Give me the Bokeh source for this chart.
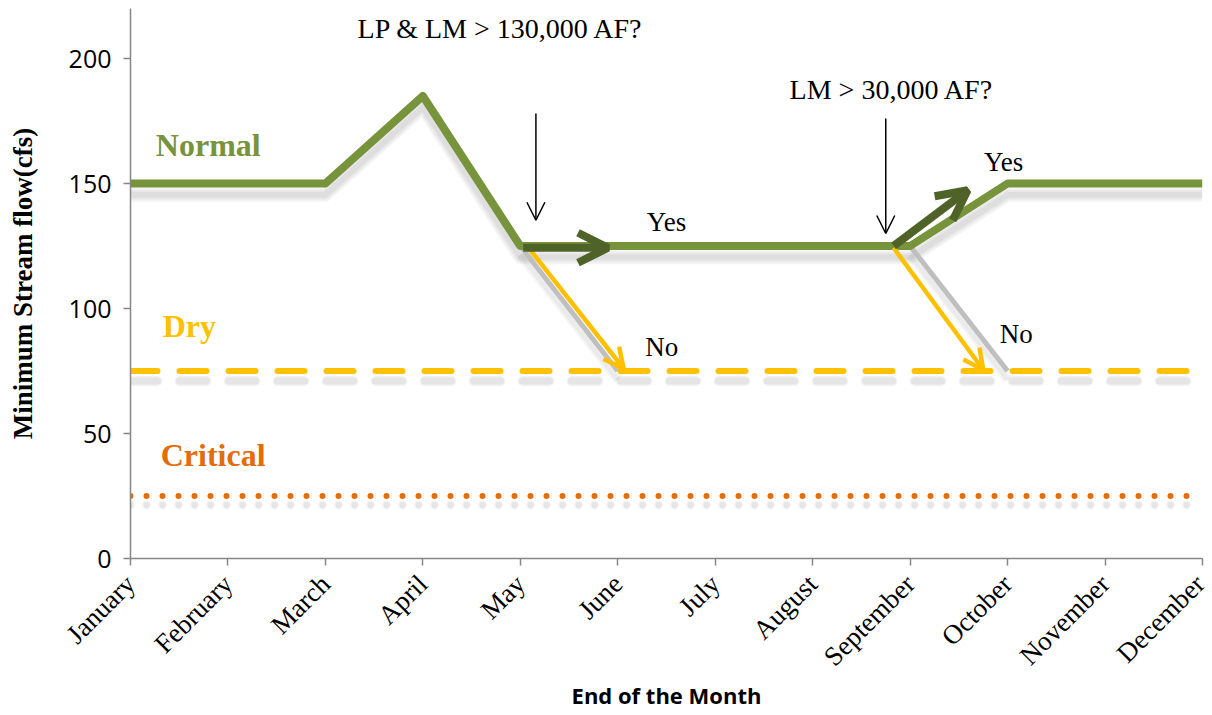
from bokeh.plotting import figure
from bokeh.models import Range1d, FixedTicker, Arrow, OpenHead, Label
from bokeh.embed import file_html
from bokeh.resources import INLINE

# ---------------- data ----------------
months = ["January", "February", "March", "April", "May", "June", "July",
          "August", "September", "October", "November", "December"]
normal_flow = [150, 150, 150, 185, 125, 125, 125, 125, 125, 150, 150, 150]
dry_flow = [75] * 12
critical_flow = [25] * 12
no_path1_months = ["May", "June"]
no_path1_flow = [125, 75]
no_path2_months = ["September", "October"]
no_path2_flow = [125, 75]
y_ticks = [0, 50, 100, 150, 200]

xi = list(range(len(months)))
def idx(ms):
    return [months.index(m) for m in ms]

GREEN = "#77933C"
DKGREEN = "#4F6228"
YELLOW = "#FFC000"
ORANGE = "#E46C0A"
GRAY = "#BFBFBF"
AXIS = "#868686"

p = figure(width=1210, height=713, output_backend="svg", toolbar_location=None,
           x_range=Range1d(0, 11), y_range=Range1d(0, 220),
           min_border_left=130, min_border_right=8, min_border_top=8,
           min_border_bottom=154, outline_line_color=None)
p.grid.visible = False

def shadow(xs, ys, off, widths=(14, 10, 6), alpha=0.045, dash="solid", cap="butt"):
    for w in widths:
        p.line(xs, [v - off for v in ys], line_color="black", line_alpha=alpha,
               line_width=w, line_dash=dash, line_cap=cap, line_join="round")

# shadows
shadow(xi, normal_flow, 4.5)
shadow(xi, dry_flow, 4.0, widths=(10, 7), alpha=0.05, dash="27 22", cap="round")
shadow(xi, critical_flow, 3.6, widths=(9, 6), alpha=0.05, dash="0 16", cap="round")
shadow(idx(no_path1_months), no_path1_flow, 3.5, widths=(9, 5), alpha=0.04)
shadow(idx(no_path2_months), no_path2_flow, 3.5, widths=(9, 5), alpha=0.04)

# gray "No" paths
p.line(idx(no_path1_months), no_path1_flow, line_color=GRAY, line_width=5)
p.line(idx(no_path2_months), no_path2_flow, line_color=GRAY, line_width=5)

# dry and critical
p.line(xi, dry_flow, line_color=YELLOW, line_width=6, line_dash="27 22", line_cap="round")
p.line(xi, critical_flow, line_color=ORANGE, line_width=6, line_dash="0 16", line_cap="round")

# normal
p.line(xi, normal_flow, line_color=GREEN, line_width=8, line_join="round")

# arrows
def arrow(x0, y0, x1, y1, color, lw, size):
    p.add_layout(Arrow(end=OpenHead(size=size, line_color=color, line_width=lw),
                       x_start=x0, y_start=y0, x_end=x1, y_end=y1,
                       line_color=color, line_width=lw))

arrow(4.10, 123.5, 5.06, 76.0, YELLOW, 4.5, 20)
arrow(7.83, 124.3, 8.75, 75.5, YELLOW, 4.5, 20)
arrow(4.03, 124.3, 4.90, 124.3, DKGREEN, 8, 30)
arrow(7.83, 125.0, 8.59, 147.3, DKGREEN, 8, 30)
arrow(4.16, 178.0, 4.16, 135.3, "black", 1.5, 18)
arrow(7.75, 176.0, 7.75, 130.0, "black", 1.5, 18)

# text
SERIF = "Liberation Serif"
def label(x, y, text, size, color="black", bold=False, align="center"):
    p.add_layout(Label(x=x, y=y, text=text, text_font=SERIF, text_font_size=f"{size}px",
                       text_color=color, text_font_style="bold" if bold else "normal",
                       text_align=align, text_baseline="alphabetic"))

label(3.80, 212.2, "LP & LM > 130,000 AF?", 28)
label(7.81, 187.6, "LM > 30,000 AF?", 28)
label(5.50, 134.6, "Yes", 27)
label(8.96, 158.5, "Yes", 27)
label(5.45, 84.6, "No", 27)
label(9.09, 89.8, "No", 27)
label(0.26, 165.3, "Normal", 32, GREEN, True, "left")
label(0.33, 93.1, "Dry", 32, YELLOW, True, "left")
label(0.31, 41.5, "Critical", 32, ORANGE, True, "left")

# axes
p.xaxis.ticker = FixedTicker(ticks=xi)
p.xaxis.major_label_overrides = {i: m for i, m in enumerate(months)}
p.xaxis.major_label_orientation = 0.785398
p.xaxis.major_label_text_font = SERIF
p.xaxis.major_label_text_font_size = "27px"
p.xaxis.axis_label = "End of the Month"
p.xaxis.axis_label_text_font = "Open Sans"
p.xaxis.axis_label_text_font_style = "bold"
p.xaxis.axis_label_text_font_size = "22px"
p.xaxis.axis_label_standoff = -5

p.yaxis.ticker = FixedTicker(ticks=y_ticks)
p.yaxis.major_label_text_font = "Open Sans"
p.yaxis.major_label_text_font_size = "25px"
p.yaxis.axis_label = "Minimum Stream flow(cfs)"
p.yaxis.axis_label_text_font = SERIF
p.yaxis.axis_label_text_font_style = "bold"
p.yaxis.axis_label_text_font_size = "27px"
p.yaxis.axis_label_standoff = 28

for ax in (p.xaxis, p.yaxis):
    ax.axis_line_color = AXIS
    ax.axis_line_width = 1.5
    ax.major_tick_line_color = AXIS
    ax.major_tick_line_width = 1.5
    ax.major_tick_in = 0
    ax.major_tick_out = 7
    ax.minor_tick_line_color = None
    ax.major_label_text_color = "black"
    ax.axis_label_text_color = "black"
p.xaxis.major_label_standoff = 14
p.yaxis.major_label_standoff = 12

open("out.html", "w").write(file_html(p, INLINE))
